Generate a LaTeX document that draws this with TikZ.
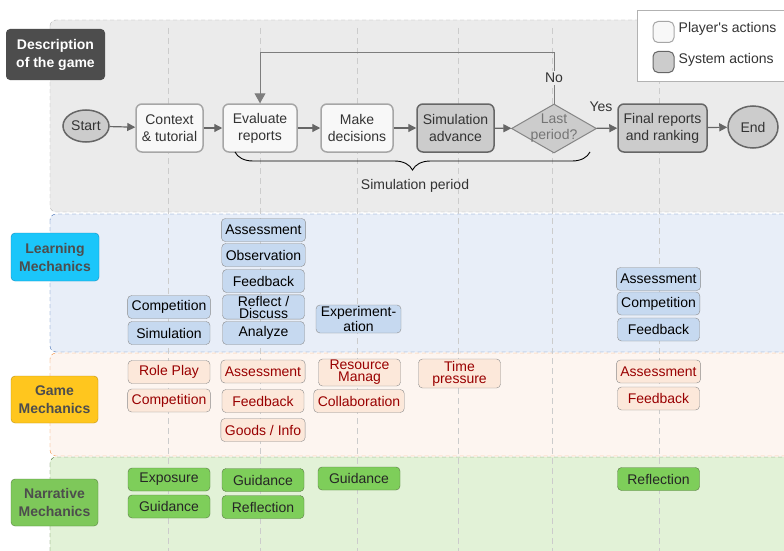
\documentclass[tikz,border=0pt]{standalone}
\usepackage{fontspec}
\setmainfont{Liberation Sans}
\usepackage{tikz}
\usetikzlibrary{arrows.meta,positioning,calc,decorations.pathreplacing,shapes.geometric}
\usepackage{xcolor}
\definecolor{bandgray}{RGB}{235,235,235}
\definecolor{bandgrayline}{RGB}{178,178,178}
\definecolor{lmband}{RGB}{232,238,248}
\definecolor{lmbandline}{RGB}{61,108,181}
\definecolor{gmband}{RGB}{253,245,240}
\definecolor{gmbandline}{RGB}{242,140,60}
\definecolor{nmband}{RGB}{226,242,215}
\definecolor{nmbandline}{RGB}{70,110,45}
\definecolor{gridgray}{RGB}{204,204,204}
\definecolor{playerfill}{RGB}{248,248,248}
\definecolor{playerline}{RGB}{166,166,166}
\definecolor{systemfill}{RGB}{204,204,204}
\definecolor{systemline}{RGB}{102,102,102}
\definecolor{arrowgray}{RGB}{102,102,102}
\definecolor{flowtext}{RGB}{51,51,51}
\definecolor{lmfill}{RGB}{198,217,240}
\definecolor{mechline}{RGB}{140,140,140}
\definecolor{gmfill}{RGB}{252,232,218}
\definecolor{gmtext}{RGB}{153,0,0}
\definecolor{nmfill}{RGB}{126,206,90}
\definecolor{nmline}{RGB}{90,120,70}
\definecolor{nmtext}{RGB}{38,38,38}
\definecolor{descfill}{RGB}{77,77,77}
\definecolor{learnfill}{RGB}{27,198,250}
\definecolor{learnline}{RGB}{20,140,190}
\definecolor{gamefill}{RGB}{255,198,30}
\definecolor{gameline}{RGB}{190,145,20}
\definecolor{narrfill}{RGB}{126,200,90}
\definecolor{narrline}{RGB}{85,130,60}
\definecolor{taggray}{RGB}{77,77,77}

\begin{document}
\begin{tikzpicture}[x=1pt,y=-1pt,>={Triangle[length=8pt,width=8pt]},
    font=\fontsize{14}{17}\selectfont,
    player/.style={draw=playerline,fill=playerfill,line width=1.5pt,rounded corners=6pt,
        minimum height=48pt,align=center,inner sep=2pt,text=flowtext},
    system/.style={player,draw=systemline,fill=systemfill},
    flow/.style={->,draw=arrowgray,line width=1.2pt},
    band/.style={dashed,dash pattern=on 4pt off 3pt,rounded corners=6pt},
    gridline/.style={draw=gridgray,dash pattern=on 6pt off 4pt},
    mech/.style={draw=mechline,rounded corners=4pt,minimum width=82pt,minimum height=23pt,
        inner xsep=4pt,inner ysep=1pt,align=center},
    twoline/.style={font=\fontsize{14}{12}\selectfont},
    lm/.style={mech,fill=lmfill},
    gm/.style={mech,fill=gmfill,text=gmtext},
    nm/.style={mech,fill=nmfill,draw=nmline,text=nmtext},
    tag/.style={rounded corners=4pt,minimum width=88pt,minimum height=48pt,align=center,
        font=\fontsize{14}{18}\selectfont\bfseries,text=taggray}]
    \clip (0,0) rectangle (784,551);
    \fill[white] (0,0) rectangle (784,551);

    % bands
    \draw[band,fill=nmband,draw=nmbandline] (50,457) rectangle (800,570);
    \draw[band,fill=gmband,draw=gmbandline] (50,353) rectangle (800,456);
    \draw[band,fill=lmband,draw=lmbandline] (50,214) rectangle (800,352);
    \draw[band,fill=bandgray,draw=bandgrayline] (50,20) rectangle (800,212);
    \foreach \x in {168,260,357,458,552,659} {
        \draw[gridline] (\x,28) -- (\x,551);
    }

    % legend
    \draw[draw=bandgrayline,fill=white] (637,10) rectangle (800,81);
    \node[player,line width=1pt,minimum width=21pt,minimum height=21pt,inner sep=0pt,rounded corners=5pt] (legp) at (663.5,32) {};
    \node[system,line width=1pt,minimum width=21pt,minimum height=21pt,inner sep=0pt,rounded corners=5pt] (legs) at (663.5,62) {};
    \node[right=4pt of legp,inner sep=0pt,yshift=3pt,text=flowtext] (legpt) {Player\textquotesingle s actions};
    \node[right=4pt of legs,inner sep=0pt,yshift=2pt,text=flowtext] (legst) {System actions};

    % row labels
    \node[tag,fill=descfill,text=white,minimum width=99pt,minimum height=51pt] (desc) at (55.5,54.5) {Description\\of the game};
    \node[tag,fill=learnfill,draw=learnline] (learn) at (55,257) {Learning\\Mechanics};
    \node[tag,fill=gamefill,draw=gameline,minimum width=87pt,minimum height=47pt] (game) at (54.5,399.5) {Game\\Mechanics};
    \node[tag,fill=narrfill,draw=narrline,minimum width=87pt,minimum height=47pt] (narr) at (54.5,502.5) {Narrative\\Mechanics};

    % game flow
    \node[ellipse,draw=systemline,fill=systemfill,line width=1.5pt,minimum width=46pt,minimum height=32pt,inner sep=0pt,text=flowtext] (start) at (86,126) {Start};
    \node[player,minimum width=67pt] (ctx) at (169.5,128) {Context\\\& tutorial};
    \node[player,minimum width=74pt] (eval) at (260,128) {Evaluate\\reports};
    \node[player,minimum width=72pt] (make) at (357,128) {Make\\decisions};
    \node[system,minimum width=77pt] (simadv) at (455.5,128) {Simulation\\advance};
    \node[diamond,draw=arrowgray!80,fill=systemfill,line width=1pt,aspect=1.7,inner sep=-8pt,
        minimum width=85pt,minimum height=49pt,align=center,text=arrowgray!90,
        font=\fontsize{14}{16}\selectfont] (last) at (554,128.5) {Last\\period?};
    \node[system,minimum width=89pt] (final) at (662.5,128) {Final reports\\and ranking};
    \node[ellipse,draw=systemline,fill=systemfill,line width=1.5pt,minimum width=50pt,minimum height=42pt,inner sep=0pt,text=flowtext] (end) at (753,127) {End};

    \draw[flow] (start) -- (ctx);
    \draw[flow] (ctx) -- (eval);
    \draw[flow] (eval) -- (make);
    \draw[flow] (make) -- (simadv);
    \draw[flow] (simadv) -- (last);
    \draw[flow] (last) -- (final);
    \draw[flow] (final) -- (end);
    \node[text=flowtext] (yes) at (601,107) {Yes};

    \coordinate (looptop) at (554,53);
    \draw[draw=arrowgray!85,line width=1pt,-{Triangle[length=10pt,width=11pt]}]
        (last.north) -- (looptop) node[midway,fill=bandgray,inner sep=2pt,text=flowtext] (no) {No}
        -| (eval.north);

    \draw[decorate,decoration={brace,mirror,amplitude=18pt},line width=0.9pt] (235,152) -- (590,152);
    \node[text=flowtext] (simper) at (415,186) {Simulation period};

    % learning mechanics
    \node[lm] (lmcomp) at (169,307) {Competition};
    \node[lm] (lmsim) at (169,333) {Simulation};
    \node[lm] (lmass) at (263.5,230) {Assessment};
    \node[lm] (lmobs) at (263.5,255) {Observation};
    \node[lm] (lmfeed) at (263.5,281) {Feedback};
    \node[lm,twoline] (lmrefl) at (263.5,307) {Reflect /\\Discuss};
    \node[lm] (lmana) at (263.5,333) {Analyze};
    \node[lm,twoline,minimum width=85pt,minimum height=28pt] (lmexp) at (358.5,319) {Experiment-\\ation};
    \node[lm] (lmass2) at (658.5,279) {Assessment};
    \node[lm] (lmcomp2) at (658.5,303.5) {Competition};
    \node[lm] (lmfeed2) at (658.5,329.5) {Feedback};

    % game mechanics
    \node[gm] (gmrole) at (169,372) {Role Play};
    \node[gm] (gmcomp) at (169,400.5) {Competition};
    \node[gm] (gmass) at (263,371.5) {Assessment};
    \node[gm] (gmfeed) at (263,401) {Feedback};
    \node[gm] (gmgoods) at (263,430) {Goods / Info};
    \node[gm,twoline,minimum height=27pt] (gmres) at (359.5,372.5) {Resource\\Manag};
    \node[gm] (gmcoll) at (359,401) {Collaboration};
    \node[gm,twoline,minimum height=29pt] (gmtime) at (459.5,373.5) {Time\\pressure};
    \node[gm] (gmass2) at (658.5,371.5) {Assessment};
    \node[gm] (gmfeed2) at (658.5,398.5) {Feedback};

    % narrative mechanics
    \node[nm] (nmexp) at (169,479.5) {Exposure};
    \node[nm] (nmguid) at (169,506.5) {Guidance};
    \node[nm] (nmguid2) at (263,480) {Guidance};
    \node[nm] (nmrefl) at (263,507) {Reflection};
    \node[nm] (nmguid3) at (359,478.5) {Guidance};
    \node[nm] (nmrefl2) at (658.5,479) {Reflection};
\end{tikzpicture}
\end{document}
